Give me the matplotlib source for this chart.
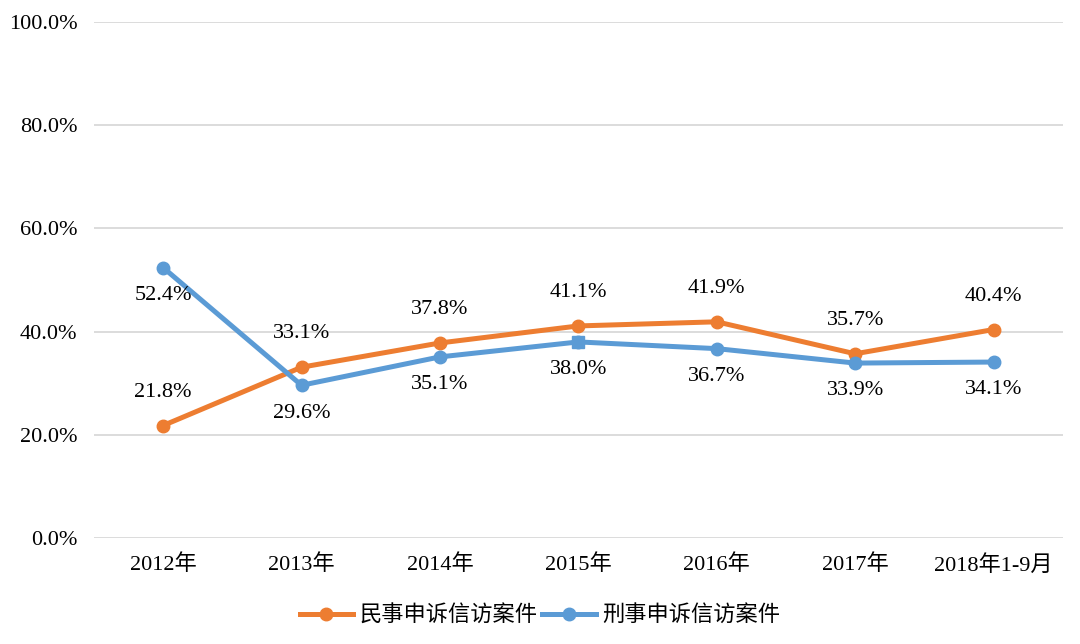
import numpy as np
import matplotlib
matplotlib.use("Agg")
import matplotlib.pyplot as plt
from matplotlib.ticker import PercentFormatter

plt.rcParams['font.family'] = ['Liberation Serif', 'Noto Sans CJK SC']

years = ['2012年', '2013年', '2014年', '2015年', '2016年', '2017年', '2018年1-9月']
civil = [21.8, 33.1, 37.8, 41.1, 41.9, 35.7, 40.4]
criminal = [52.4, 29.6, 35.1, 38.0, 36.7, 33.9, 34.1]
civil_name = '民事申诉信访案件'
criminal_name = '刑事申诉信访案件'

orange = '#ED7D31'
blue = '#5B9BD5'

fig = plt.figure(figsize=(10.8, 6.44), dpi=100)
ax = fig.add_axes([0.087, 0.1646, 0.897, 0.8012])

x = np.arange(len(years))
ax.plot(x, civil, color=orange, lw=3.6, marker='o', ms=9, label=civil_name, zorder=3)
ax.plot(x, criminal, color=blue, lw=3.6, marker='o', ms=9, label=criminal_name, zorder=3)
# the 2015 point of the blue line is drawn as a square
ax.plot(x[3], criminal[3], color=blue, marker='s', ms=9, ls='none', zorder=4)

for i in x:
    ax.annotate(f'{civil[i]:.1f}%', (i, civil[i]), xytext=(0, 24), textcoords='offset points',
                ha='center', va='center', fontsize=16)
    ax.annotate(f'{criminal[i]:.1f}%', (i, criminal[i]), xytext=(0, -20), textcoords='offset points',
                ha='center', va='center', fontsize=16)

ax.set_xlim(-0.5, len(years) - 0.5)
ax.set_ylim(0, 100)
ax.set_yticks(np.arange(0, 101, 20))
ax.yaxis.set_major_formatter(PercentFormatter(decimals=1))
ax.set_xticks(x)
ax.set_xticklabels(years)
ax.tick_params(axis='both', length=0, labelsize=16)
ax.tick_params(axis='y', pad=12)
ax.tick_params(axis='x', pad=12)
ax.grid(axis='y', color='#D9D9D9', lw=1.3)
ax.set_axisbelow(True)
for s in ax.spines.values():
    s.set_visible(False)

leg = fig.legend(loc='center', bbox_to_anchor=(0.5, 0.045), ncol=2, frameon=False,
                 prop={'family': ['Noto Sans CJK SC'], 'size': 16},
                 handlelength=2.4, handletextpad=0.3, columnspacing=0.2)

fig.savefig('out.png', dpi=100)
